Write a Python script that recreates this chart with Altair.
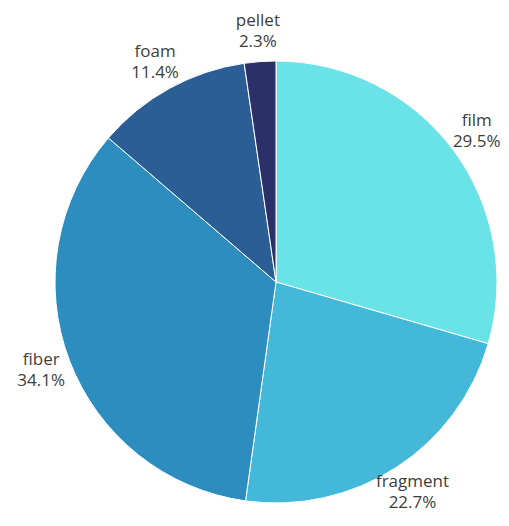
import altair as alt
import pandas as pd

categories = ["film", "fragment", "fiber", "foam", "pellet"]
values = [29.5, 22.7, 34.1, 11.4, 2.3]
colors = ["#6ae3e8", "#44b8d8", "#2d8dbf", "#2c5e96", "#2b3168"]

df = pd.DataFrame({
    "category": categories,
    "value": values,
    "order": list(range(len(categories))),
    "label": [f"{c}\n{v:.1f}%" for c, v in zip(categories, values)],
})

base = alt.Chart(df).encode(
    theta=alt.Theta("value:Q", stack=True),
    order=alt.Order("order:Q"),
)

pie = base.mark_arc(outerRadius=221, stroke="white", strokeWidth=1).encode(
    color=alt.Color("category:N", scale=alt.Scale(domain=categories, range=colors), legend=None)
)

text = base.mark_text(
    radius=251, fontSize=17, font="Open Sans", color="#3d3d3d",
    lineBreak="\n", lineHeight=21, baseline="middle", align="center", dy=-10.5
).encode(text="label:N")

chart = (pie + text).properties(
    width=450, height=470,
    padding={"left": 43, "top": 39, "right": 0, "bottom": 0},
    autosize=alt.AutoSizeParams(type="none"),
).configure_view(stroke=None)

chart.save("out.html", embed_options={"renderer": "svg", "actions": False})
